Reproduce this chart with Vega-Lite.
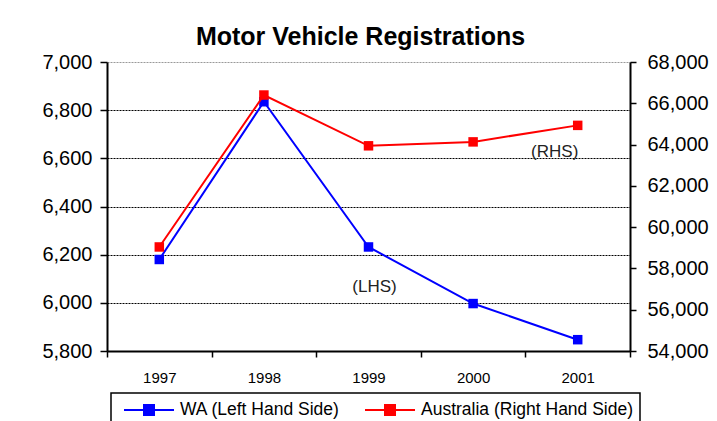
{
  "$schema": "https://vega.github.io/schema/vega-lite/v6.json",
  "width": 523,
  "height": 289,
  "autosize": {"type": "none"},
  "padding": {"left": 107, "top": 62, "right": 87, "bottom": 70},
  "background": "white",
  "title": {
    "text": "Motor Vehicle Registrations",
    "font": "Liberation Sans",
    "fontSize": 25,
    "fontWeight": "bold",
    "color": "black",
    "anchor": "middle",
    "dx": -8,
    "offset": 2
  },
  "datasets": {
    "wa": [
      {"year": "1997", "value": 6180, "series": "WA (Left Hand Side)"},
      {"year": "1998", "value": 6835, "series": "WA (Left Hand Side)"},
      {"year": "1999", "value": 6232, "series": "WA (Left Hand Side)"},
      {"year": "2000", "value": 5997, "series": "WA (Left Hand Side)"},
      {"year": "2001", "value": 5847, "series": "WA (Left Hand Side)"}
    ],
    "aus": [
      {"year": "1997", "value": 59040, "series": "Australia (Right Hand Side)"},
      {"year": "1998", "value": 66400, "series": "Australia (Right Hand Side)"},
      {"year": "1999", "value": 63940, "series": "Australia (Right Hand Side)"},
      {"year": "2000", "value": 64130, "series": "Australia (Right Hand Side)"},
      {"year": "2001", "value": 64930, "series": "Australia (Right Hand Side)"}
    ],
    "lhs": [{"year": "1999", "value": 6065, "label": "(LHS)"}],
    "rhs": [{"year": "2001", "value": 63635, "label": "(RHS)"}]
  },
  "layer": [
    {
      "encoding": {
        "x": {
          "field": "year", "type": "ordinal", "bandPosition": 0.5,
          "scale": {"type": "band", "paddingInner": 0, "paddingOuter": 0, "domain": ["1997", "1998", "1999", "2000", "2001"]},
          "axis": {"title": null, "labelAngle": 0, "tickBand": "extent", "labelFontSize": 15, "labelPadding": 13, "tickSize": 6}
        },
        "y": {
          "field": "value", "type": "quantitative",
          "scale": {"domain": [5800, 7000], "nice": false, "zero": false},
          "axis": {
            "title": null, "orient": "left", "values": [5800, 6000, 6200, 6400, 6600, 6800, 7000],
            "format": ",.0f", "labelFontSize": 20, "labelPadding": 8, "tickSize": 7,
            "grid": true,
            "gridColor": {"condition": {"test": "datum.value == 7000", "value": "#999999"}, "value": "black"},
            "gridDash": [2, 1], "gridWidth": 1
          }
        }
      },
      "layer": [
        {
          "data": {"name": "wa"},
          "mark": {"type": "line", "strokeWidth": 2, "point": {"shape": "square", "size": 90, "filled": true, "opacity": 1}},
          "encoding": {
            "color": {
              "field": "series", "type": "nominal",
              "scale": {"domain": ["WA (Left Hand Side)", "Australia (Right Hand Side)"], "range": ["#0000FF", "#FF0000"]},
              "legend": {
                "orient": "none", "legendX": 4, "legendY": 331, "direction": "horizontal", "title": null,
                "encode": {"symbols": {"update": {"fill": {"scale": "color", "field": "value"}, "stroke": {"scale": "color", "field": "value"}}}}
              }
            }
          }
        },
        {
          "data": {"name": "lhs"},
          "mark": {"type": "text", "fontSize": 17, "font": "Liberation Sans", "color": "#222222", "dx": 6},
          "encoding": {"text": {"field": "label"}}
        }
      ]
    },
    {
      "encoding": {
        "x": {"field": "year", "type": "ordinal", "bandPosition": 0.5},
        "y": {
          "field": "value", "type": "quantitative",
          "scale": {"domain": [54000, 68000], "nice": false, "zero": false},
          "axis": {
            "title": null, "orient": "right", "values": [54000, 56000, 58000, 60000, 62000, 64000, 66000, 68000],
            "format": ",.0f", "labelFontSize": 20, "labelPadding": 11, "tickSize": 6, "grid": false
          }
        }
      },
      "layer": [
        {
          "data": {"name": "aus"},
          "mark": {"type": "line", "strokeWidth": 2, "point": {"shape": "square", "size": 90, "filled": true, "opacity": 1}},
          "encoding": {"color": {"field": "series", "type": "nominal"}}
        },
        {
          "data": {"name": "rhs"},
          "mark": {"type": "text", "fontSize": 17, "font": "Liberation Sans", "color": "#222222", "dx": -23},
          "encoding": {"text": {"field": "label"}}
        }
      ]
    }
  ],
  "resolve": {"scale": {"y": "independent"}},
  "config": {
    "font": "Liberation Sans",
    "view": {"stroke": null},
    "axis": {
      "labelFont": "Liberation Sans", "labelColor": "black",
      "domainColor": "black", "domainWidth": 2,
      "tickColor": "black", "tickWidth": 1.5
    },
    "legend": {
      "strokeColor": "black", "strokeWidth": 1.5, "padding": 6,
      "labelFont": "Liberation Sans", "labelFontSize": 17.5, "labelColor": "black", "labelLimit": 400,
      "symbolType": "M-2.5,0H2.5M-0.5,-0.5H0.5V0.5H-0.5Z", "symbolSize": 400, "symbolStrokeWidth": 2,
      "symbolOffset": 21, "labelOffset": 20, "columnPadding": 18
    }
  }
}
